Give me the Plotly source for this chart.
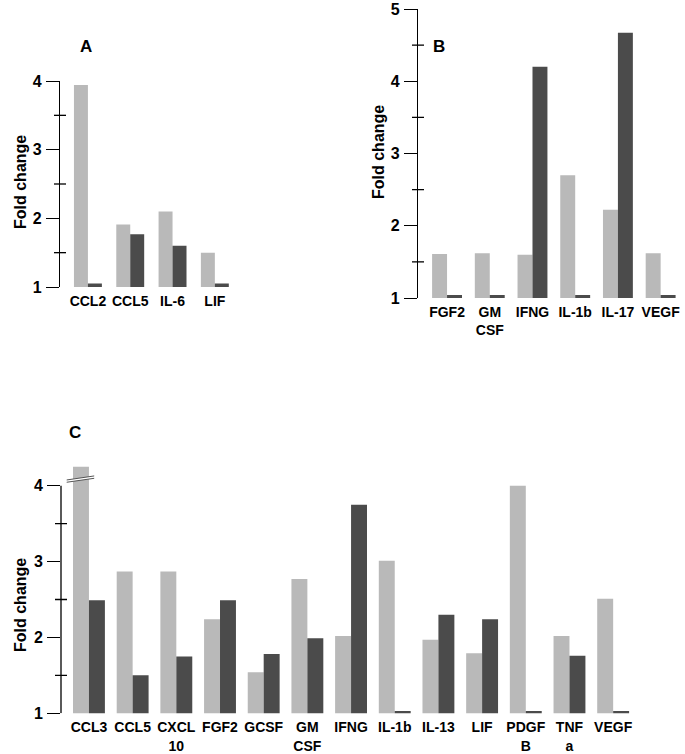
import plotly.graph_objects as go

W, H = 685, 754

# ---------------- data ----------------
catsA = ["CCL2", "CCL5", "IL-6", "LIF"]
lightA = [3.94, 1.91, 2.10, 1.50]
darkA = [1.05, 1.77, 1.60, 1.05]

catsB = ["FGF2", "GM<br>CSF", "IFNG", "IL-1b", "IL-17", "VEGF"]
lightB = [1.61, 1.62, 1.60, 2.70, 2.22, 1.62]
darkB = [1.04, 1.04, 4.20, 1.04, 4.67, 1.04]

catsC = ["CCL3", "CCL5", "CXCL<br>10", "FGF2", "GCSF", "GM<br>CSF", "IFNG",
         "IL-1b", "IL-13", "LIF", "PDGF<br>B", "TNF<br>a", "VEGF"]
lightC = [4.25, 2.87, 2.87, 2.24, 1.54, 2.77, 2.02, 3.01, 1.97, 1.79, 4.00, 2.02, 2.51]
darkC = [2.49, 1.50, 1.75, 2.49, 1.78, 1.99, 3.75, 1.03, 2.30, 2.24, 1.03, 1.76, 1.03]

tickA = [1, 2, 3, 4]
tickB = [1, 2, 3, 4, 5]
tickC = [1, 2, 3, 4]
minorA = [1.5, 2.5, 3.5]
minorB = [1.5, 2.5, 3.5, 4.5]
minorC = [1.5, 2.5, 3.5]

LIGHT = "#b9b9b9"
DARK = "#4b4b4b"
FONT = "Liberation Sans, Arial, sans-serif"


def px_x(p):
    return p / W


def px_y(p):
    return 1 - p / H


# panel geometry (pixels)
domA_x = [px_x(60), px_x(236)]
domA_y = [px_y(287), px_y(81)]
domB_x = [px_x(418), px_x(682)]
domB_y = [px_y(298), px_y(9)]
domC_x = [px_x(61), px_x(635)]
domC_y = [px_y(713.3), px_y(462.9)]

fig = go.Figure()


def add_pair(cats, light, dark, xa, ya, w):
    fig.add_trace(go.Bar(x=cats, y=light, xaxis=xa, yaxis=ya, marker_color=LIGHT,
                         width=w, offset=-w, marker_line_width=0, showlegend=False))
    fig.add_trace(go.Bar(x=cats, y=dark, xaxis=xa, yaxis=ya, marker_color=DARK,
                         width=w, offset=0, marker_line_width=0, showlegend=False))


add_pair(catsA, lightA, darkA, "x", "y", 0.33)
add_pair(catsB, lightB, darkB, "x2", "y2", 0.35)
add_pair(catsC, lightC, darkC, "x3", "y3", 0.365)

xcommon = dict(showgrid=False, zeroline=False, showline=False, ticks="",
               tickfont=dict(family=FONT, size=14, color="black", weight="bold"),
               type="category", automargin=False, ticklabelstandoff=4)
ycommon = dict(showgrid=False, zeroline=False, ticks="outside", ticklen=13,
               tickwidth=1.3, tickcolor="black", linecolor="black", linewidth=1.3,
               tickfont=dict(family=FONT, size=16, color="black", weight="bold"),
               ticklabelstandoff=1, automargin=False)

fig.update_layout(
    width=W, height=H, margin=dict(l=0, r=0, t=0, b=0, autoexpand=False),
    paper_bgcolor="white", plot_bgcolor="white",
    barmode="overlay",
    xaxis=dict(domain=domA_x, anchor="y", range=[-0.66, 3.5], **xcommon),
    yaxis=dict(domain=domA_y, anchor="x", range=[1, 4], tickvals=tickA,
               showline=True, **ycommon),
    xaxis2=dict(domain=domB_x, anchor="y2", range=[-0.68, 5.5], **xcommon),
    yaxis2=dict(domain=domB_y, anchor="x2", range=[1, 5], tickvals=tickB,
                showline=True, **ycommon),
    xaxis3=dict(domain=domC_x, anchor="y3", range=[-0.64, 12.5], **xcommon),
    yaxis3=dict(domain=domC_y, anchor="x3", range=[1, 4.3], tickvals=tickC,
                showline=False, **ycommon),
)

shapes = []
# axis line for C (only from 1 to 4)
shapes.append(dict(type="line", xref="paper", yref="y3", x0=domC_x[0], x1=domC_x[0],
                   y0=1, y1=4, line=dict(color="black", width=1.3)))


def minor_ticks(xpos, yref, vals):
    for v in vals:
        shapes.append(dict(type="line", xref="paper", yref=yref,
                           x0=xpos - 6 / W, x1=xpos + 6 / W, y0=v, y1=v,
                           line=dict(color="black", width=1.3)))


minor_ticks(domA_x[0], "y", minorA)
minor_ticks(domB_x[0], "y2", minorB)
minor_ticks(domC_x[0], "y3", minorC)

# axis break marks on CCL3 (panel C)
shapes.append(dict(type="path", xref="x3", yref="y3",
                   path="M -0.51,4.045 L 0.12,4.097 L 0.12,4.128 L -0.51,4.075 Z",
                   fillcolor="white", line=dict(width=0)))
shapes.append(dict(type="line", xref="x3", yref="y3", x0=-0.51, y0=4.075, x1=0.12, y1=4.128,
                   line=dict(color="#555555", width=1)))
shapes.append(dict(type="line", xref="x3", yref="y3", x0=-0.51, y0=4.045, x1=0.12, y1=4.097,
                   line=dict(color="#555555", width=1)))

fig.update_layout(shapes=shapes)

ann = []
for letter, x, y in [("A", 86, 47), ("B", 439, 47), ("C", 75, 432)]:
    ann.append(dict(text=letter, xref="paper", yref="paper", x=px_x(x), y=px_y(y),
                    showarrow=False, xanchor="center", yanchor="middle",
                    font=dict(family=FONT, size=17, color="black", weight="bold")))
for x, y in [(20, 182), (378, 152), (20, 605)]:
    ann.append(dict(text="Fold change", xref="paper", yref="paper", x=px_x(x), y=px_y(y),
                    showarrow=False, textangle=-90, xanchor="center", yanchor="middle",
                    font=dict(family=FONT, size=16, color="black", weight="bold")))
fig.update_layout(annotations=ann)

fig.write_html(
    "out.html",
    config={"displayModeBar": False},
    post_script="document.body.style.margin='0';document.body.style.overflow='hidden';",
)
